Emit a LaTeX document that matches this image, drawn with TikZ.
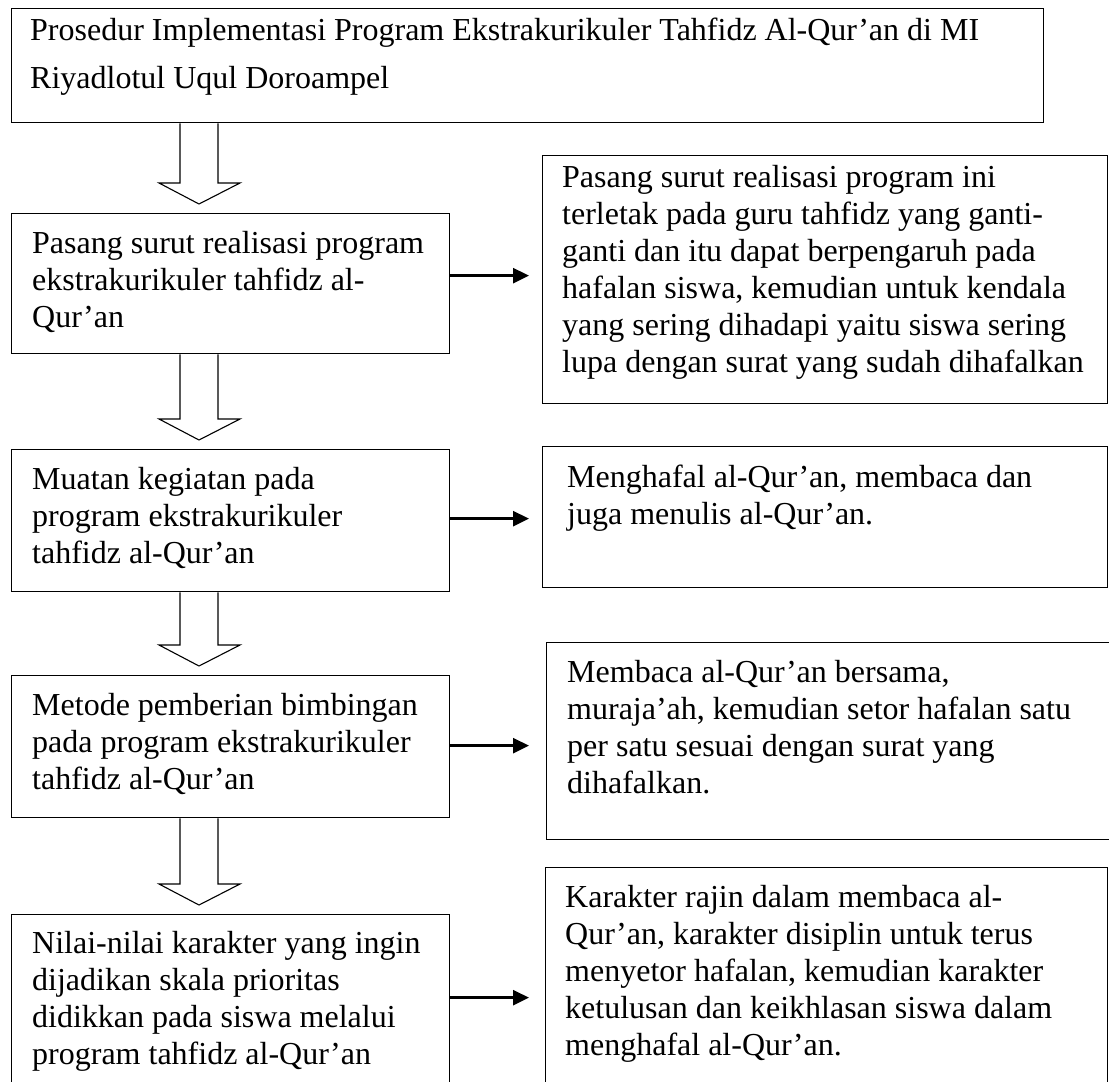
\documentclass[tikz,border=0pt]{standalone}
\usepackage{fontspec}
\setmainfont{Liberation Serif}
\usetikzlibrary{arrows.meta,calc}
\newcommand\firstln{\rule{0pt}{26pt}}
\newcommand\hollowdown[2]{%
  \draw[hollow] let \p1=(#1.south), \p2=(#2.north) in
    (180pt,\y1) -- (180pt,\y2+30pt) -- (159pt,\y2+30pt) -- (199pt,\y2+9pt)
    -- (240pt,\y2+30pt) -- (218pt,\y2+30pt) -- (218pt,\y1);}
\begin{document}
\begin{tikzpicture}[x=1pt,y=-1pt,
  box/.style={draw, line width=1.3pt, rectangle, inner sep=0pt, anchor=north west},
  txt/.style={anchor=north west, inner sep=0pt, align=left, font=\fontsize{32}{37}\selectfont},
  toptxt/.style={txt, font=\fontsize{32}{48}\selectfont},
  hollow/.style={draw, line width=1.1pt, fill=white, line join=miter},
  conn/.style={line width=2.7pt, -{Triangle[length=16pt,width=15pt]}},
]
\useasboundingbox (0,0) rectangle (1109,1082);
\fill[white] (0,0) rectangle (1109,1082);
\clip (0,0) rectangle (1109,1082);

% boxes
\node[box, minimum width=1032pt, minimum height=114pt] (top) at (11,8) {};
\node[box, minimum width=438pt, minimum height=140pt] (L1) at (11,213) {};
\node[box, minimum width=565pt, minimum height=248pt] (R1) at (542,155) {};
\node[box, minimum width=438pt, minimum height=142pt] (L2) at (11,449) {};
\node[box, minimum width=565pt, minimum height=141pt] (R2) at (542,446) {};
\node[box, minimum width=438pt, minimum height=142pt] (L3) at (11,675) {};
\node[box, minimum width=600pt, minimum height=197pt] (R3) at (546,642) {};
\node[box, minimum width=438pt, minimum height=220pt] (L4) at (11,914) {};
\node[box, minimum width=562pt, minimum height=250pt] (R4) at (545,867) {};

% texts
\node[toptxt] (topt) at (30,14) {\firstln Prosedur Implementasi Program Ekstrakurikuler Tahfidz Al-Qur’an di MI\\Riyadlotul Uqul Doroampel};
\node[txt] (L1t) at (32,227) {\firstln Pasang surut realisasi program\\ekstrakurikuler tahfidz al-\\Qur’an};
\node[txt] (R1t) at (562,161) {\firstln Pasang surut realisasi program ini\\terletak pada guru tahfidz yang ganti-\\ganti dan itu dapat berpengaruh pada\\hafalan siswa, kemudian untuk kendala\\yang sering dihadapi yaitu siswa sering\\lupa dengan surat yang sudah dihafalkan};
\node[txt] (L2t) at (32,463) {\firstln Muatan kegiatan pada\\program ekstrakurikuler\\tahfidz al-Qur’an};
\node[txt] (R2t) at (567,461) {\firstln Menghafal al-Qur’an, membaca dan\\juga menulis al-Qur’an.};
\node[txt] (L3t) at (32,689) {\firstln Metode pemberian bimbingan\\pada program ekstrakurikuler\\tahfidz al-Qur’an};
\node[txt] (R3t) at (567,656) {\firstln Membaca al-Qur’an bersama,\\muraja’ah, kemudian setor hafalan satu\\per satu sesuai dengan surat yang\\dihafalkan.};
\node[txt] (L4t) at (32,927) {\firstln Nilai-nilai karakter yang ingin\\dijadikan skala prioritas\\didikkan pada siswa melalui\\program tahfidz al-Qur’an};
\node[txt] (R4t) at (565,881) {\firstln Karakter rajin dalam membaca al-\\Qur’an, karakter disiplin untuk terus\\menyetor hafalan, kemudian karakter\\ketulusan dan keikhlasan siswa dalam\\menghafal al-Qur’an.};

% hollow down arrows
\hollowdown{top}{L1}
\hollowdown{L1}{L2}
\hollowdown{L2}{L3}
\hollowdown{L3}{L4}

% right arrows
\draw[conn] ($(L1.east)+(0,-8)$) -- ($(L1.east -| R1.west)+(-13,-8)$);
\draw[conn] ($(L2.east)+(0,-2)$) -- ($(L2.east -| R2.west)+(-13,-2)$);
\draw[conn] ($(L3.east)+(0,-1)$) -- ($(L3.east -| R3.west)+(-17,-1)$);
\draw[conn] ($(L4.east)+(0,-27)$) -- ($(L4.east -| R4.west)+(-16,-27)$);
\end{tikzpicture}
\end{document}
